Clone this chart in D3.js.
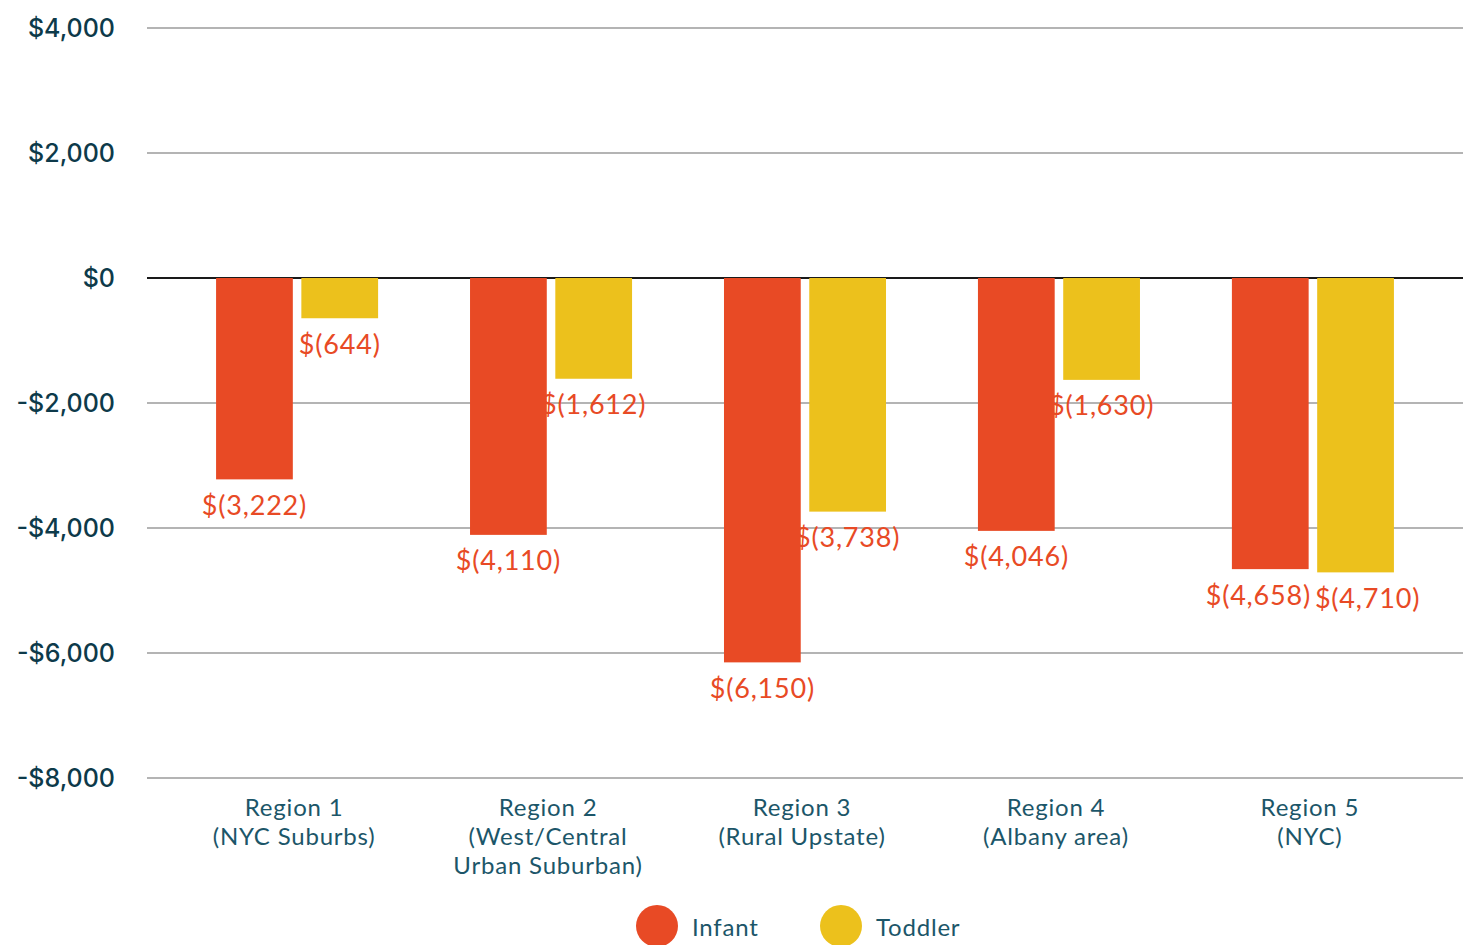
<!DOCTYPE html>
<html lang="en">
<head>
<meta charset="utf-8">
<script src="https://d3js.org/d3.v7.min.js"></script>
<style>
    body { margin: 0; background: #fff; }
    svg { display: block; }
</style>
</head>
<body>
<div id="chart"></div>
<script>
    // chart data
    const regions = [
        ["Region 1", "(NYC Suburbs)"],
        ["Region 2", "(West/Central", "Urban Suburban)"],
        ["Region 3", "(Rural Upstate)"],
        ["Region 4", "(Albany area)"],
        ["Region 5", "(NYC)"]
    ];
    const series = ["Infant", "Toddler"];
    const infant = [-3222, -4110, -6150, -4046, -4658];
    const toddler = [-644, -1612, -3738, -1630, -4710];
    const yTicks = [4000, 2000, 0, -2000, -4000, -6000, -8000];

    const colours = { Infant: "#E84A25", Toddler: "#ECC11C" };
    const textTeal = "#1C5669";
    const axisDark = "#0D3A4A";

    const width = 1469, height = 945;
    const svg = d3.select("#chart").append("svg")
        .attr("width", width)
        .attr("height", height);

    // scales
    const x = d3.scaleBand()
        .domain(regions.map((d, i) => i))
        .range([147, 1463])
        .paddingInner(0.362)
        .paddingOuter(0.272);

    const xSub = d3.scaleBand()
        .domain(series)
        .range([0, x.bandwidth()])
        .paddingInner(0.1);

    const y = d3.scaleLinear()
        .domain([-8000, 4000])
        .range([778, 28]);

    // gridlines
    svg.append("g")
        .selectAll("line")
        .data(yTicks)
        .join("line")
        .attr("x1", 147)
        .attr("x2", 1463)
        .attr("y1", d => y(d))
        .attr("y2", d => y(d))
        .attr("stroke", d => d === 0 ? "#1a1a1a" : "#6b6b6b")
        .attr("stroke-width", d => d === 0 ? 2.2 : 1.2);

    // y labels
    const fmtTick = v => (v < 0 ? "-" : "") + "$" + d3.format(",")(Math.abs(v));
    svg.append("g")
        .selectAll("text")
        .data(yTicks)
        .join("text")
        .attr("x", 115)
        .attr("y", d => y(d))
        .attr("dy", "0.36em")
        .attr("text-anchor", "end")
        .attr("font-family", "Inter, 'Noto Sans', sans-serif")
        .attr("font-size", 25)
        .attr("font-weight", 500)
        .attr("fill", axisDark)
        .text(fmtTick);

    // bars
    const rows = regions.map((r, i) => ({
        i: i,
        values: [
            { key: "Infant", value: infant[i] },
            { key: "Toddler", value: toddler[i] }
        ]
    }));

    const groups = svg.append("g")
        .selectAll("g")
        .data(rows)
        .join("g")
        .attr("transform", d => "translate(" + x(d.i) + ",0)");

    groups.selectAll("rect")
        .data(d => d.values)
        .join("rect")
        .attr("x", d => xSub(d.key))
        .attr("width", xSub.bandwidth())
        .attr("y", d => Math.min(y(0), y(d.value)))
        .attr("height", d => Math.abs(y(d.value) - y(0)))
        .attr("fill", d => colours[d.key]);

    // value labels
    const fmtVal = v => "$(" + d3.format(",")(Math.abs(v)) + ")";
    groups.each(function () {
        const g = d3.select(this);
        const labels = g.selectAll("text.val")
            .data(d => d.values)
            .join("text")
            .attr("class", "val")
            .attr("x", d => xSub(d.key) + xSub.bandwidth() / 2)
            .attr("y", d => y(d.value) + 26)
            .attr("dy", "0.35em")
            .attr("text-anchor", "middle")
            .attr("font-family", "Lato, 'Open Sans', sans-serif")
            .attr("font-size", 27)
            .attr("letter-spacing", 0.8)
            .attr("fill", "#E84A25")
            .text(d => fmtVal(d.value));

        // push apart labels that collide
        const nodes = labels.nodes();
        const a = nodes[0].getBBox(), b = nodes[1].getBBox();
        const vOverlap = a.y < b.y + b.height && b.y < a.y + a.height;
        const overlap = a.x + a.width + 4 - b.x;
        if (vOverlap && overlap > 0) {
            d3.select(nodes[0]).attr("x", +nodes[0].getAttribute("x") - overlap / 2);
            d3.select(nodes[1]).attr("x", +nodes[1].getAttribute("x") + overlap / 2);
        }
    });

    // x labels
    const xLab = svg.append("g")
        .selectAll("text")
        .data(regions)
        .join("text")
        .attr("x", (d, i) => x(i) + x.bandwidth() / 2 - 3)
        .attr("y", 816)
        .attr("text-anchor", "middle")
        .attr("font-family", "Lato, 'Open Sans', sans-serif")
        .attr("font-size", 24)
        .attr("letter-spacing", 0.8)
        .attr("fill", textTeal);

    xLab.selectAll("tspan")
        .data(d => d)
        .join("tspan")
        .attr("x", function () { return this.parentNode.getAttribute("x"); })
        .attr("dy", (d, i) => i === 0 ? 0 : 29)
        .text(d => d);

    // legend
    const legend = svg.append("g")
        .selectAll("g")
        .data(series)
        .join("g")
        .attr("transform", (d, i) => "translate(" + (657 + i * 184) + ",926)");

    legend.append("circle")
        .attr("r", 21)
        .attr("fill", d => colours[d]);

    legend.append("text")
        .attr("x", 35)
        .attr("y", 2)
        .attr("dy", "0.35em")
        .attr("font-family", "Lato, 'Open Sans', sans-serif")
        .attr("font-size", 24)
        .attr("letter-spacing", 0.8)
        .attr("fill", textTeal)
        .text(d => d);
</script>
</body>
</html>
